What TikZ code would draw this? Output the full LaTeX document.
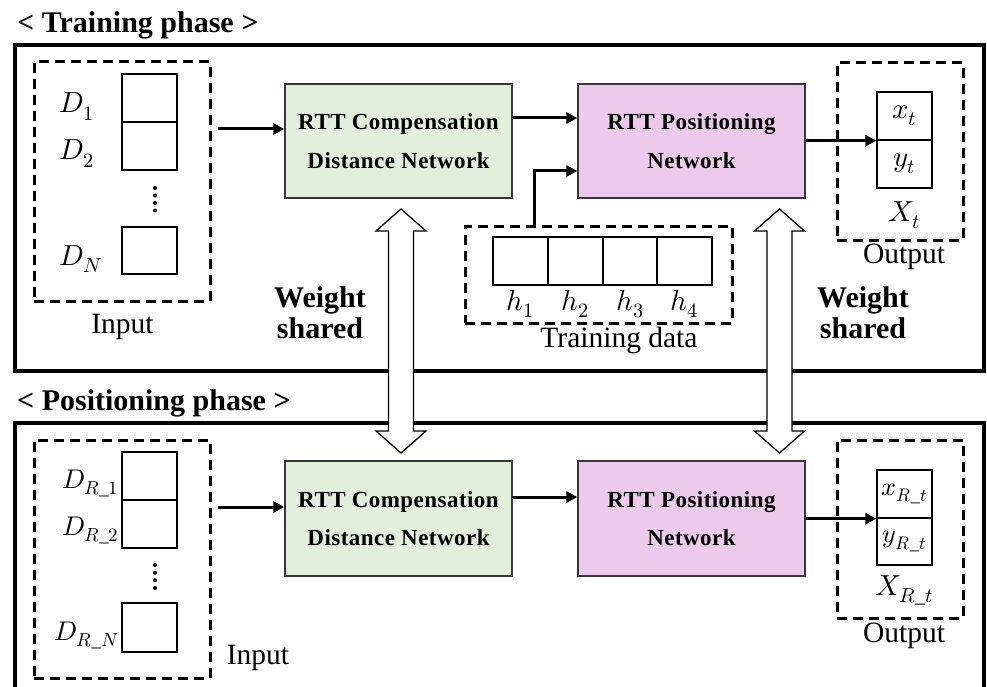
\documentclass[tikz,border=0pt]{standalone}
\usepackage{fontspec}
\usepackage{unicode-math}
\setmainfont{Liberation Serif}
\setmathfont{Latin Modern Math}
\usetikzlibrary{arrows.meta,calc}
\definecolor{gfill}{RGB}{226,239,218}
\definecolor{pfill}{RGB}{235,202,235}
\definecolor{bdr}{RGB}{55,55,55}
\tikzset{
  phasebox/.style={draw, line width=4pt},
  dbox/.style={draw, line width=3pt, dash pattern=on 10pt off 6pt, inner sep=0pt},
  cell/.style={draw, line width=1.3pt, minimum width=55pt, minimum height=48pt, inner sep=0pt, font=\fontsize{29}{31}\selectfont},
  net/.style={draw=bdr, line width=1.3pt, minimum width=227pt, minimum height=114pt, align=center, inner sep=0pt, font=\fontsize{23}{38.5}\selectfont\bfseries\addfontfeature{LetterSpace=2}},
  arr/.style={line width=3pt, -{Triangle[length=11pt,width=11pt]}},
  lbl/.style={inner sep=0pt, font=\fontsize{29.5}{31}\selectfont},
  mlbl/.style={inner sep=0pt, font=\fontsize{29}{31}\selectfont},
  rlbl/.style={inner sep=0pt, anchor=base east, font=\fontsize{27}{29}\selectfont},
  ttl/.style={inner sep=0pt, anchor=base west, font=\fontsize{30}{32}\selectfont\bfseries},
  wsh/.style={inner sep=0pt, align=center, font=\fontsize{30}{31}\selectfont\bfseries},
  wsarrow/.pic={\draw[line width=1.3pt, fill=white] (0,0) -- (25,22) -- (12.5,22) -- (12.5,222) -- (25,222) -- (0,244) -- (-25,222) -- (-12.5,222) -- (-12.5,22) -- (-25,22) -- cycle;}
}
\begin{document}
\begin{tikzpicture}[x=1pt,y=-1pt]
\useasboundingbox (0,0) rectangle (987,687);
\clip (0,0) rectangle (987,687);
\fill[white] (0,0) rectangle (987,687);

% ---------- Training phase ----------
\node[ttl] (t1) at (17,33) {< Training phase >};
\draw[phasebox] (15,45) rectangle (984,371);

\node[dbox, minimum width=176pt, minimum height=239pt] (inA) at (122,181.5) {};
\node[cell] (c1A) at (149.5,98) {};
\node[cell] (c2A) at (149.5,146) {};
\node[cell, minimum height=47pt] (cNA) at (149.5,250.5) {};
\foreach \yy in {188,195.5,203,210.5} \fill (155,\yy) circle (2);
\node[mlbl, anchor=base west] (d1A) at (59,113) {$D_1$};
\node[mlbl, anchor=base west] (d2A) at (59,160) {$D_2$};
\node[mlbl, anchor=base west] (dNA) at (59,265) {$D_N$};
\node[lbl, anchor=base] (inLA) at (122.5,333) {Input};

\node[net, fill=gfill] (gA) at (398.5,141) {RTT Compensation\\Distance Network};
\node[net, fill=pfill] (pA) at (691.5,141) {RTT Positioning\\Network};

\node[dbox, minimum width=267pt, minimum height=97pt] (tdat) at (598.5,274.5) {};
\node[cell] (h1c) at (520.5,261) {};
\node[cell] (h2c) at (575.5,261) {};
\node[cell] (h3c) at (630,261) {};
\node[cell] (h4c) at (684.5,261) {};
\node[mlbl, anchor=base] (h1) at (520.5,310) {$h_1$};
\node[mlbl, anchor=base] (h2) at (575.5,310) {$h_2$};
\node[mlbl, anchor=base] (h3) at (630,310) {$h_3$};
\node[mlbl, anchor=base] (h4) at (684.5,310) {$h_4$};
\node[lbl, anchor=base] (tdL) at (619,347) {Training data};

\node[dbox, minimum width=126pt, minimum height=177pt] (outA) at (900,151.5) {};
\node[cell] (xA) at (904.5,116) {$x_t$};
\node[cell] (yA) at (904.5,164) {$y_t$};
\node[mlbl, anchor=base] (XA) at (904,221) {$X_t$};
\node[lbl, anchor=base] (outLA) at (904,263) {Output};

\coordinate (a1) at ([yshift=12pt]gA.west);
\draw[arr] ([xshift=6pt]inA.east |- a1) -- (a1);
\draw[arr] ([yshift=23pt]gA.east) -- ([yshift=23pt]pA.west);
\draw[arr] ([xshift=-64.5pt]tdat.north) |- ([yshift=-30pt]pA.west);
\draw[arr] (pA.east |- xA.south west) -- (xA.south west);

\node[wsh] (wsL) at (320,313) {Weight\\shared};
\node[wsh] (wsR) at (863,313) {Weight\\shared};

% ---------- Positioning phase ----------
\node[ttl] (t2) at (17,410) {< Positioning phase >};
\draw[phasebox] (15,423) rectangle (984,720);

\node[dbox, minimum width=176pt, minimum height=238pt] (inB) at (122,559) {};
\node[cell] (c1B) at (149.5,476) {};
\node[cell] (c2B) at (149.5,524) {};
\node[cell, minimum height=49pt] (cNB) at (149.5,627.5) {};
\foreach \yy in {565,572.7,580.3,588} \fill (155,\yy) circle (2);
\node[rlbl] (d1B) at (119,488) {$D_{R\_1}$};
\node[rlbl] (d2B) at (119,535) {$D_{R\_2}$};
\node[rlbl] (dNB) at (119,640) {$D_{R\_N}$};
\node[lbl, anchor=base] (inLB) at (258,664) {Input};

\node[net, fill=gfill, minimum height=115pt] (gB) at (398.5,518.5) {RTT Compensation\\Distance Network};
\node[net, fill=pfill, minimum height=115pt] (pB) at (691.5,518.5) {RTT Positioning\\Network};

\node[dbox, minimum width=126pt, minimum height=178pt] (outB) at (900,529) {};
\node[cell, font=\fontsize{26}{28}\selectfont] (xB) at (904.5,494) {$x_{R\_t}$};
\node[cell, minimum height=47pt, font=\fontsize{26}{28}\selectfont] (yB) at (904.5,541.5) {$y_{R\_t}$};
\node[mlbl, anchor=base] (XB) at (904,595) {$X_{R\_t}$};
\node[lbl, anchor=base] (outLB) at (904,642) {Output};

\coordinate (b1) at ([yshift=11.5pt]gB.west);
\draw[arr] ([xshift=6pt]inB.east |- b1) -- (b1);
\draw[arr] ([yshift=21.5pt]gB.east) -- ([yshift=21.5pt]pB.west);
\draw[arr] (pB.east |- xB.south west) -- (xB.south west);

% ---------- weight sharing arrows ----------
\pic (wsaL) at (401,209) {wsarrow};
\pic (wsaR) at (779.5,209) {wsarrow};
\end{tikzpicture}
\end{document}
